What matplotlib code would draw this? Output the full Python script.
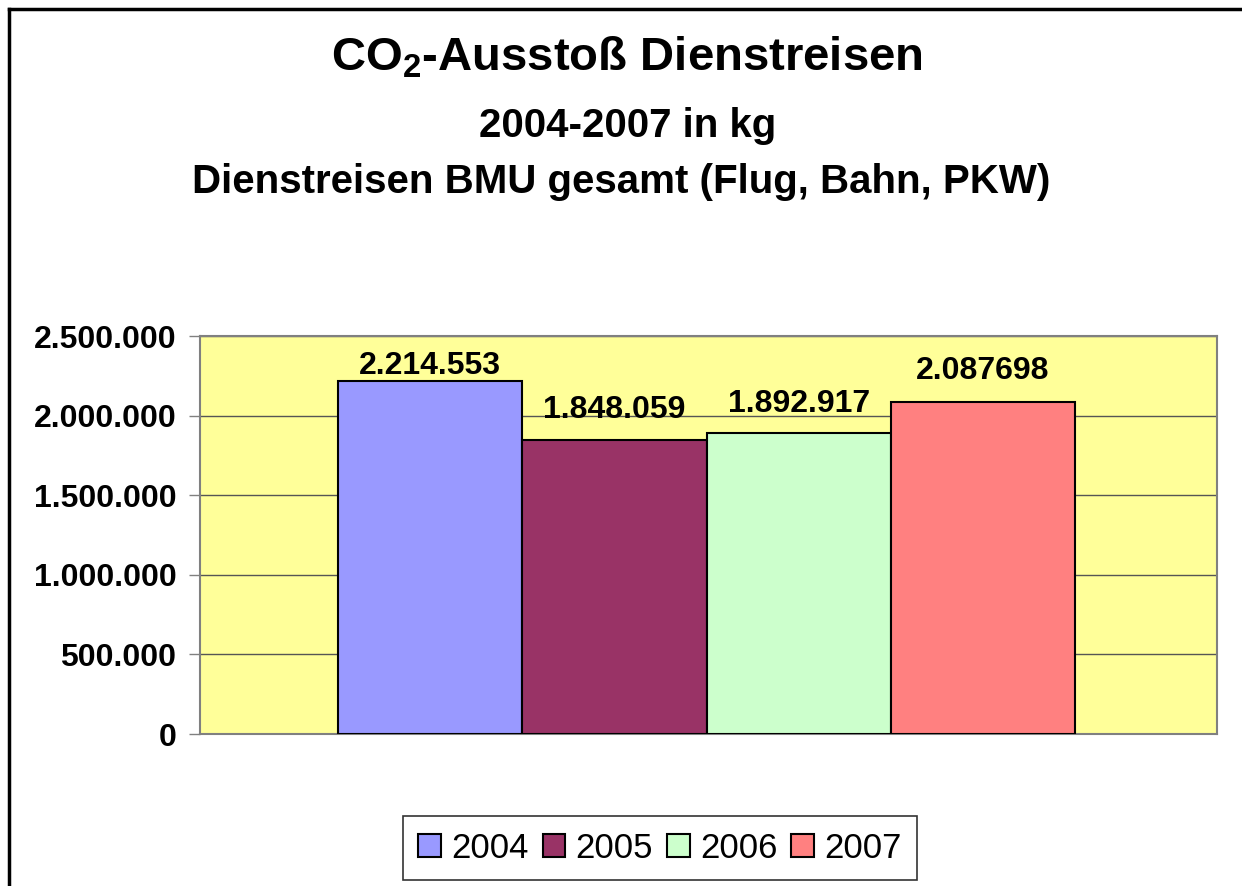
import matplotlib.pyplot as plt
from matplotlib.lines import Line2D
from matplotlib.ticker import FuncFormatter
import numpy as np

plt.rcParams['font.family'] = ['Liberation Sans', 'DejaVu Sans']
plt.rcParams['mathtext.fontset'] = 'custom'
plt.rcParams['mathtext.rm'] = 'Liberation Sans:bold'
plt.rcParams['mathtext.default'] = 'rm'

# Daten
years = ['2004', '2005', '2006', '2007']
values = [2214553, 1848059, 1892917, 2087698]
value_labels = ['2.214.553', '1.848.059', '1.892.917', '2.087698']
colors = ['#9999FF', '#993366', '#CCFFCC', '#FF8080']
yticks = [0, 500000, 1000000, 1500000, 2000000, 2500000]
label_offsets = [0, 11, 10, 11]  # Abstand Beschriftung über Balken (pt)

fig = plt.figure(figsize=(12.42, 8.86), dpi=100)
ax = fig.add_axes([200/1242, 1-734/886, 1017/1242, 398/886])
ax.set_facecolor('#FFFF99')

x = np.arange(len(years))
bars = ax.bar(x, values, width=1.0, color=colors, edgecolor='black', linewidth=1.5,
              label=years, zorder=3)

for b, txt, off in zip(bars, value_labels, label_offsets):
    ax.annotate(txt, (b.get_x() + b.get_width()/2, b.get_height()),
                xytext=(0, off), textcoords='offset points',
                ha='center', va='bottom', fontsize=23, fontweight='bold')

ax.set_xlim(-1.25, 4.27)
ax.set_ylim(0, 2500000)
ax.set_yticks(yticks)
ax.yaxis.set_major_formatter(FuncFormatter(lambda v, p: f'{int(v):,}'.replace(',', '.')))
ax.tick_params(axis='y', labelsize=23, length=8, width=1, color='#808080', pad=9)
for t in ax.get_yticklabels():
    t.set_fontweight('bold')
ax.set_xticks([])
ax.grid(axis='y', color='#555555', linewidth=1, zorder=0)
for s in ax.spines.values():
    s.set_color('#808080')
    s.set_linewidth(1.5)

# Titel
fig.text(0.505, 1-58/886, 'CO$_2$-Ausstoß Dienstreisen', ha='center', va='center',
         fontsize=34, fontweight='bold')
fig.text(0.505, 1-126/886, '2004-2007 in kg', ha='center', va='center',
         fontsize=29, fontweight='bold')
fig.text(0.5, 1-182/886, 'Dienstreisen BMU gesamt (Flug, Bahn, PKW)', ha='center', va='center',
         fontsize=29, fontweight='bold')

leg = fig.legend(handles=bars, labels=years, loc='center', ncol=4,
                 bbox_to_anchor=(660/1242, 1-848/886), fontsize=25, frameon=True,
                 fancybox=False, edgecolor='black', handlelength=0.65, handleheight=0.65,
                 handletextpad=0.3, columnspacing=0.4, borderpad=0.45)
leg.get_frame().set_linewidth(1.2)

# Rahmen des Diagramms
fig.add_artist(Line2D([9/1242, 9/1242], [0, 1-9/886], color='black', linewidth=2.5))
fig.add_artist(Line2D([9/1242, 1], [1-9/886, 1-9/886], color='black', linewidth=2.5))

plt.savefig('out.png', dpi=100)
